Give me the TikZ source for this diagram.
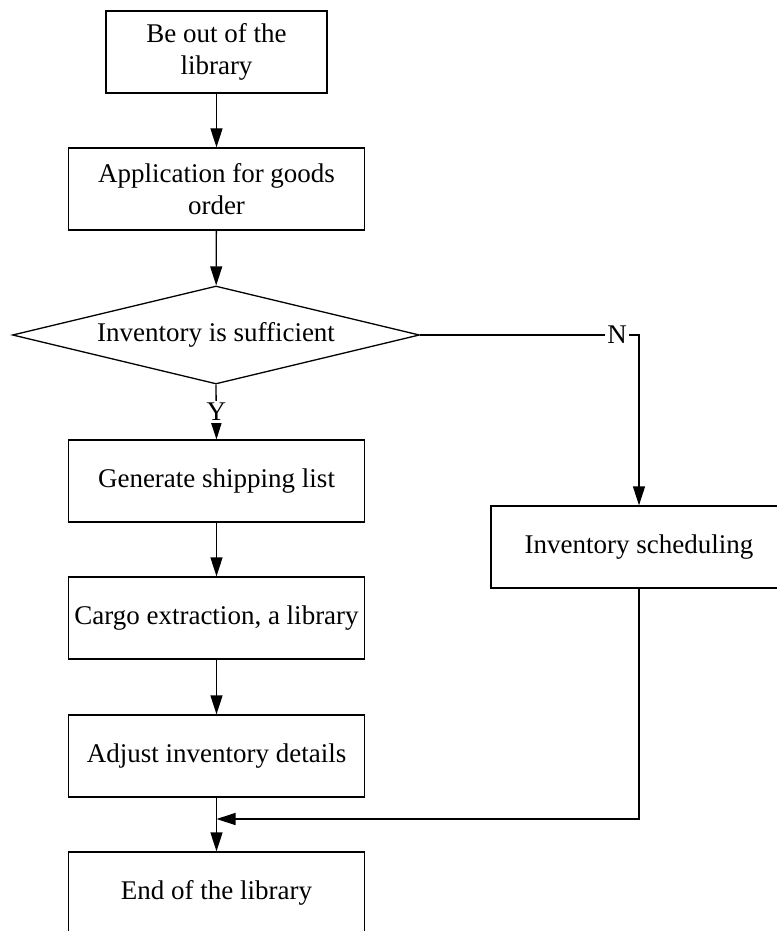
\documentclass[tikz,border=0pt]{standalone}
\usepackage{fontspec}
\setmainfont{Liberation Serif}
\usetikzlibrary{shapes.geometric}
\usetikzlibrary{arrows.meta}

\tikzset{
    procbox/.style={rectangle, draw=black, line width=1.3pt,
        minimum width=296pt, minimum height=82pt, inner sep=0pt,
        align=center, font=\fontsize{27}{32}\selectfont},
    decision/.style={diamond, draw=black, line width=1.3pt, aspect=4.15,
        minimum width=407pt, minimum height=98pt, inner sep=0pt,
        font=\fontsize{27}{32}\selectfont},
    flow/.style={line width=1.3pt, -{Triangle[length=19pt,width=12pt]}},
    branch/.style={fill=white, inner sep=2pt, font=\fontsize{27}{32}\selectfont}
}

\begin{document}
\begin{tikzpicture}[x=1pt,y=-1pt]
        \useasboundingbox (0,0) rectangle (776,931);

        \node[procbox, minimum width=221pt] (out) at (216.5,52) {Be out of the\\library};
        \node[procbox] (apply) at (216.5,189) {Application for goods\\order};
        \node[decision] (check) at (216,335) {Inventory is sufficient};
        \node[procbox] (gen) at (216.5,481) {Generate shipping list};
        \node[procbox] (sched) at (639,547) {Inventory scheduling};
        \node[procbox] (cargo) at (216.5,618) {Cargo extraction, a library};
        \node[procbox] (adjust) at (216.5,756) {Adjust inventory details};
        \node[procbox] (finish) at (216.5,893) {End of the library};

        \coordinate (merge) at (216.5,819);

        \draw[flow] (out) -- (apply);
        \draw[flow] (apply) -- (check);
        \draw[flow] (check.south) -- node[branch] {Y} (gen.north);
        \draw[flow] (check.east) -- node[branch, pos=0.9] {N} (check.east -| sched.north) -- (sched.north);
        \draw[flow] (gen) -- (cargo);
        \draw[flow] (cargo) -- (adjust);
        \draw[flow] (adjust) -- (finish);
        \draw[flow] (sched.south) |- (merge);
    \end{tikzpicture}
\end{document}
